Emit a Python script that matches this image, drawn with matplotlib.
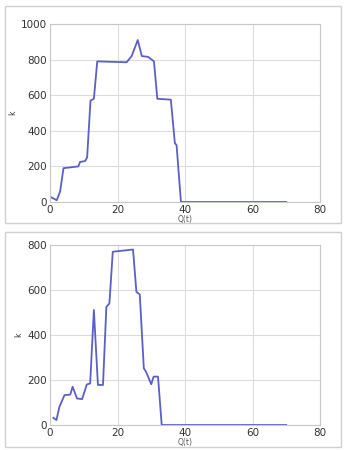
import matplotlib
matplotlib.use('Agg')
import matplotlib.pyplot as plt
from matplotlib.patches import Rectangle

# top panel series
t1 = [0, 2, 3, 4, 8.4, 8.9, 10.4, 11, 12, 13, 14, 22.7, 24.2, 26, 27.2, 29.1, 30.8,
      31.8, 35.8, 37, 37.5, 38.8, 70]
k1 = [30, 10, 60, 190, 200, 225, 230, 250, 570, 580, 790, 785, 820, 910, 820, 815, 790,
      580, 575, 330, 320, 0, 0]

# bottom panel series
t2 = [1, 1.9, 2.8, 4.3, 6.0, 6.7, 8.0, 9.5, 10.9, 11.9, 13.0, 14.2, 15.7, 16.7, 17.6,
      18.6, 24.6, 25.6, 26.6, 27.8, 28.5, 30, 30.7, 32, 33.1, 70]
k2 = [32, 22, 81, 133, 135, 170, 118, 115, 180, 185, 511, 178, 178, 525, 540,
      770, 780, 592, 580, 252, 235, 181, 215, 215, 0, 0]

xticks = [0, 20, 40, 60, 80]
yticks1 = [0, 200, 400, 600, 800, 1000]
yticks2 = [0, 200, 400, 600, 800]

line_color = '#5b5fc7'

fig = plt.figure(figsize=(3.48, 4.5), dpi=100)

# panel frames
for (x0, y0, x1, y1) in [(5, 6, 341, 223), (5, 232, 341, 447)]:
    fig.patches.append(Rectangle((x0 / 348, 1 - y1 / 450), (x1 - x0) / 348, (y1 - y0) / 450,
                                 transform=fig.transFigure, fill=False,
                                 edgecolor='#d0d0d0', linewidth=1.0))

ax1 = fig.add_axes([50 / 348, 1 - 202 / 450, 270 / 348, 178 / 450])
ax2 = fig.add_axes([50 / 348, 1 - 425 / 450, 270 / 348, 180 / 450])

for ax, t, k, yt in [(ax1, t1, k1, yticks1), (ax2, t2, k2, yticks2)]:
    ax.plot(t, k, color=line_color, linewidth=1.3)
    ax.set_xlim(0, 80)
    ax.set_ylim(0, yt[-1])
    ax.set_xticks(xticks)
    ax.set_yticks(yt)
    ax.grid(True, color='#dcdcdc', linewidth=0.8)
    ax.tick_params(length=0, labelsize=7.5, colors='#333333', pad=2)
    for s in ax.spines.values():
        s.set_color('#c8c8c8')
    ax.set_xlabel('Q(t)', fontsize=5.5, color='#555555', labelpad=0)
    ax.set_ylabel('k', fontsize=5.5, color='#333333', labelpad=3)

fig.savefig('out.png', dpi=100)
